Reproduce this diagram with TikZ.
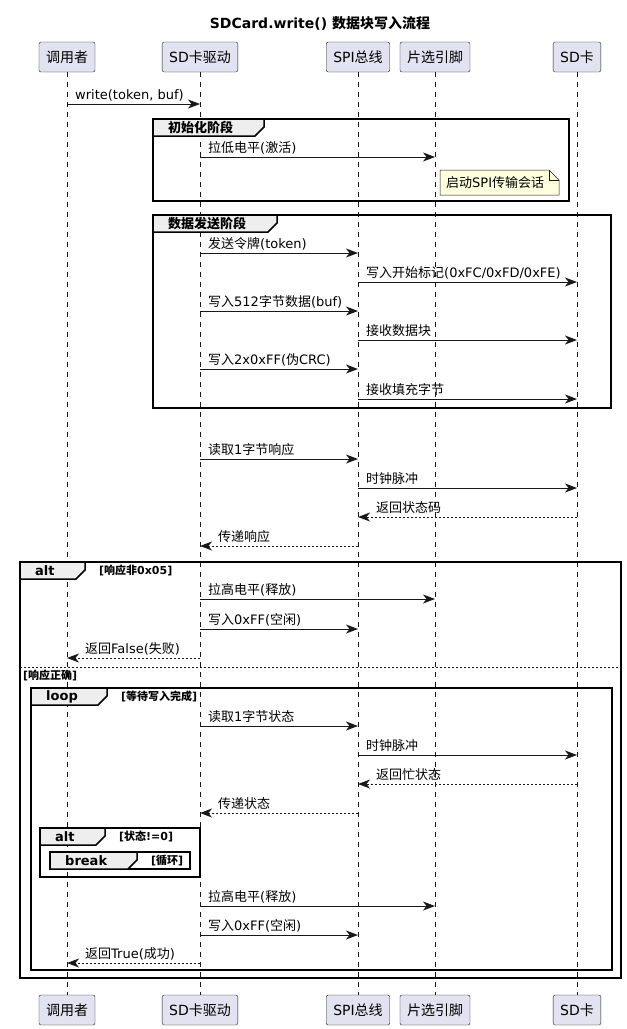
\documentclass[tikz,border=0pt]{standalone}
\usepackage{fontspec}
\setmainfont{DejaVu Sans}
\newfontfamily\cjkfam{Noto Sans CJK SC}
\usetikzlibrary{arrows.meta,positioning}
% Chinese characters switch to the CJK family
\XeTeXinterchartokenstate=1
\newXeTeXintercharclass\cjkclass
\newcount\cjkcode
\cjkcode="4E00
\loop
    \XeTeXcharclass\cjkcode=\cjkclass
    \advance\cjkcode by 1
\ifnum\cjkcode<"A000 \repeat
\XeTeXinterchartoks 0 \cjkclass = {\cjkfam}
\XeTeXinterchartoks 4095 \cjkclass = {\cjkfam}
\XeTeXinterchartoks \cjkclass 0 = {\rmfamily}
\definecolor{ink}{HTML}{181818}
\definecolor{partfill}{HTML}{E2E2F0}
\definecolor{tabfill}{HTML}{EEEEEE}
\definecolor{notefill}{HTML}{FEFFDD}
% message from left to right: name, from, to, y, text
\newcommand{\call}[5]{%
    \coordinate (#1a) at (#2 |- 0,#4);
    \coordinate (#1b) at (#3 |- 0,#4);
    \draw[call] (#1a) -- (#1b);
    \node[msg, above right=3pt and 8pt of #1a] (#1) {#5};
}
% answer from right to left
\newcommand{\reply}[5]{%
    \coordinate (#1a) at (#2 |- 0,#4);
    \coordinate (#1b) at (#3 |- 0,#4);
    \draw[reply] (#1a) -- (#1b);
    \node[msg, above right=3pt and 18pt of #1b] (#1) {#5};
}
% frame: x1, y1, x2, y2, tab width, name, keyword, guard
\newcommand{\frag}[8]{%
    \draw[frame] (#1,#2) rectangle (#3,#4);
    \draw[tab] (#1,#2) -- ++(#5,0) -- ++(0,8) -- ++(-9,9) -- (#1,#2+17) -- cycle;
    \node[keyword, anchor=west] (#6) at (#1+15,#2+8.5) {#7};
    \node[guard, anchor=west] (#6g) at (#1+#5+14,#2+8.5) {#8};
}
\tikzset{
    part/.style={draw=ink, fill=partfill, rounded corners=2pt, minimum height=30pt, inner xsep=7pt, font=\fontsize{14}{16}\selectfont},
    life/.style={ink, line width=0.5pt, dash pattern=on 5pt off 5pt},
    call/.style={ink, line width=1pt, -{Stealth[length=12pt, width=9pt, inset=3.5pt]}},
    reply/.style={call, dash pattern=on 2pt off 2pt},
    msg/.style={inner sep=0pt, font=\fontsize{13}{15}\selectfont},
    frame/.style={black, line width=1.5pt},
    tab/.style={frame, fill=tabfill},
    keyword/.style={inner sep=0pt, font=\fontsize{13}{15}\selectfont\bfseries},
    guard/.style={inner sep=0pt, font=\fontsize{11}{13}\selectfont\bfseries},
    note/.style={draw=ink, line width=0.5pt, fill=notefill}
}
\begin{document}
\begin{tikzpicture}[x=1pt, y=-1pt]
    \useasboundingbox (0,0) rectangle (627,1029);
    \node[font=\fontsize{14}{16}\selectfont\bfseries] (title) at (320,23) {SDCard.write() 数据块写入流程};

    % participants
    \node[part] (caller) at (67,57) {调用者};
    \node[part] (drv) at (200,57) {SD卡驱动};
    \node[part] (spi) at (358,57) {SPI总线};
    \node[part] (cs) at (435,57) {片选引脚};
    \node[part] (card) at (577,57) {SD卡};
    \node[part] (callerB) at (67,1010) {调用者};
    \node[part] (drvB) at (200,1010) {SD卡驱动};
    \node[part] (spiB) at (358,1010) {SPI总线};
    \node[part] (csB) at (435,1010) {片选引脚};
    \node[part] (cardB) at (577,1010) {SD卡};
    \draw[life] (caller) -- (callerB);
    \draw[life] (drv) -- (drvB);
    \draw[life] (spi) -- (spiB);
    \draw[life] (cs) -- (csB);
    \draw[life] (card) -- (cardB);

    % frames
    \frag{153}{119}{569}{201}{111}{init}{初始化阶段}{}
    \frag{153}{215}{611}{408}{124}{send}{数据发送阶段}{}
    \frag{20}{562}{621}{978}{65}{alt}{alt}{[响应非0x05]}
    \draw[ink, line width=0.8pt, dash pattern=on 2pt off 2pt] (20,667) -- (621,667);
    \node[guard, anchor=west] (altelse) at (23,675) {[响应正确]};
    \frag{31}{688}{612}{970}{76}{loop}{loop}{[等待写入完成]}
    \frag{40}{828}{200}{877}{65}{check}{alt}{[状态!=0]}
    \frag{50}{852}{190}{869}{87}{stop}{break}{[循环]}

    % note
    \draw[note] (440,170) -- (549,170) -- (559,180) -- (559,195) -- (440,195) -- cycle;
    \draw[note, fill=none] (549,170) -- (549,180) -- (559,180);
    \node[msg, anchor=west] (session) at (446,183) {启动SPI传输会话};

    % messages
    \call{m1}{caller}{drv}{104}{write(token, buf)}
    \call{m2}{drv}{cs}{157}{拉低电平(激活)}
    \call{m3}{drv}{spi}{253}{发送令牌(token)}
    \call{m4}{spi}{card}{282}{写入开始标记(0xFC/0xFD/0xFE)}
    \call{m5}{drv}{spi}{311}{写入512字节数据(buf)}
    \call{m6}{spi}{card}{340}{接收数据块}
    \call{m7}{drv}{spi}{369}{写入2x0xFF(伪CRC)}
    \call{m8}{spi}{card}{399}{接收填充字节}
    \call{m9}{drv}{spi}{459}{读取1字节响应}
    \call{m10}{spi}{card}{488}{时钟脉冲}
    \reply{m11}{card}{spi}{517}{返回状态码}
    \reply{m12}{spi}{drv}{546}{传递响应}
    \call{m13}{drv}{cs}{599}{拉高电平(释放)}
    \call{m14}{drv}{spi}{629}{写入0xFF(空闲)}
    \reply{m15}{drv}{caller}{658}{返回False(失败)}
    \call{m16}{drv}{spi}{726}{读取1字节状态}
    \call{m17}{spi}{card}{755}{时钟脉冲}
    \reply{m18}{card}{spi}{784}{返回忙状态}
    \reply{m19}{spi}{drv}{813}{传递状态}
    \call{m20}{drv}{cs}{906}{拉高电平(释放)}
    \call{m21}{drv}{spi}{935}{写入0xFF(空闲)}
    \reply{m22}{drv}{caller}{963}{返回True(成功)}
\end{tikzpicture}
\end{document}
